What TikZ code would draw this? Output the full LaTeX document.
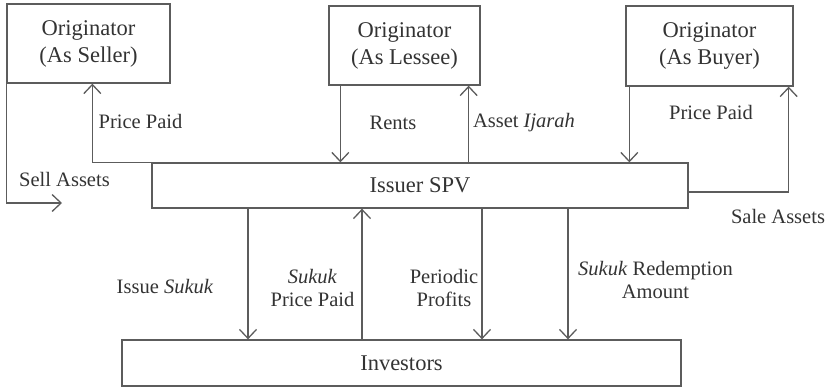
\documentclass[tikz,border=0pt]{standalone}
\usepackage{fontspec}
\setmainfont{Liberation Serif}
\usetikzlibrary{arrows.meta}
\definecolor{ink}{HTML}{333333}
\definecolor{wire}{HTML}{5C5C5C}
\begin{document}
\begin{tikzpicture}[x=1pt,y=-1pt,
  box/.style={draw=wire, line width=1.3pt, text=ink, inner sep=0pt, align=center,
    font=\fontsize{22.5}{27}\selectfont},
  lbl/.style={text=ink, inner sep=0pt, align=center, font=\fontsize{20.5}{23.5}\selectfont},
  arr/.style={draw=wire, line width=1.3pt, -{Straight Barb[length=9pt,width=17pt,line width=1.3pt]}},
  wire/.style={draw=wire, line width=1.3pt}]
\useasboundingbox (0,0) rectangle (830,388);

% parties
\node[box, minimum width=163pt, minimum height=79pt] (seller) at (88.5,43.5) {Originator\\(As Seller)};
\node[box, minimum width=151pt, minimum height=79pt] (lessee) at (404.5,45.5) {Originator\\(As Lessee)};
\node[box, minimum width=167pt, minimum height=80pt] (buyer) at (709.5,46) {Originator\\(As Buyer)};
\node[box, minimum width=536pt, minimum height=45pt] (spv) at (420,185.5) {Issuer SPV};
\node[box, minimum width=559pt, minimum height=46pt] (inv) at (401.5,363) {Investors};

% seller side
\coordinate (sellend) at (62,203);
\draw[arr] (seller.south west) |- (sellend);
\draw[arr] (spv.north west) -| ([xshift=86pt]seller.south west);

% lessee side
\draw[arr] ([xshift=12pt]lessee.south west) -- ([xshift=12pt]lessee.south west |- spv.north);
\draw[arr] ([xshift=-12pt]lessee.south east |- spv.north) -- ([xshift=-12pt]lessee.south east);

% buyer side
\draw[arr] ([xshift=4pt]buyer.south west) -- ([xshift=4pt]buyer.south west |- spv.north);
\draw[arr] ([yshift=-6.5pt]spv.east) -| ([xshift=-5pt]buyer.south east);

% investors
\draw[arr] (spv.south -| 248,0) -- (inv.north -| 248,0);
\draw[arr] (inv.north -| 362,0) -- (spv.south -| 362,0);
\draw[arr] (spv.south -| 482,0) -- (inv.north -| 482,0);
\draw[arr] (spv.south -| 568,0) -- (inv.north -| 568,0);

% labels
\node[lbl] (l1) at (64.5,179) {Sell Assets};
\node[lbl] (l2) at (140.5,121) {Price Paid};
\node[lbl] (l3) at (393,123) {Rents};
\node[lbl] (l4) at (524,123) {Asset \textit{Ijarah}};
\node[lbl] (l5) at (711,112) {Price Paid};
\node[lbl] (l6) at (778,216) {Sale Assets};
\node[lbl] (l7) at (165,287) {Issue \textit{Sukuk}};
\node[lbl] (l8) at (312.5,288) {\textit{Sukuk}\\Price Paid};
\node[lbl] (l9) at (444,288) {Periodic\\Profits};
\node[lbl] (l10) at (655.5,280) {\textit{Sukuk} Redemption\\Amount};
\end{tikzpicture}
\end{document}
